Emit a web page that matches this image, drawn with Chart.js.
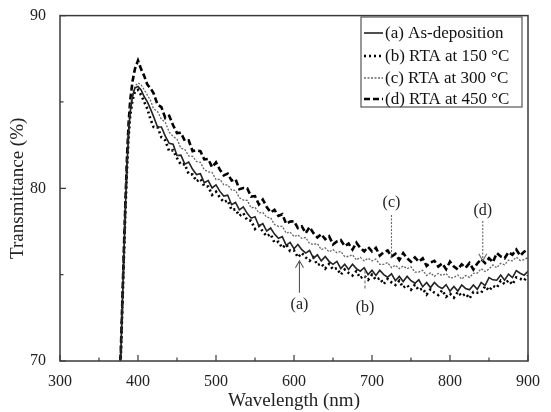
<!DOCTYPE html>
<html><head><meta charset="utf-8">
<script src="https://cdn.jsdelivr.net/npm/chart.js@4.4.1/dist/chart.umd.min.js"></script>
<style>html,body{margin:0;padding:0;background:#fff}#w{width:551px;height:412px}</style>
</head><body><div id="w"><canvas id="c" width="551" height="412"></canvas></div>
<script>
const wavelength = [376,378,380,382,384,386,388,390,393,396,400,404,408,412,416,
 420,425,430,435,440,445,450,455,460,465,470,475,480,485,490,495,500,505,510,515,520,525,530,535,540,545,
 550,555,560,565,570,575,580,585,590,595,600,605,610,615,620,625,630,635,640,645,650,655,660,665,670,675,
 680,685,690,695,700,705,710,715,720,725,730,735,740,745,750,755,760,765,770,775,780,785,790,795,800,805,
 810,815,820,825,830,835,840,845,850,855,860,865,870,875,880,885,890,895,900];
const seriesA = [69.0,70.4,73.4,76.3,79.1,81.4,83.2,84.4,85.3,85.8,85.9,85.7,85.3,85.0,84.6,
 84.15,83.55,83.55,83.02,82.6,82.55,81.9,81.92,81.4,81.52,81.1,80.8,80.85,80.32,80.45,80.02,80.2,79.82,79.55,79.6,
 79.05,79.18,78.75,78.92,78.55,78.27,78.35,77.82,77.95,77.52,77.7,77.35,77.1,77.2,76.7,76.87,76.5,76.75,76.45,76.25,
 76.4,75.95,76.15,75.8,76.05,75.77,75.6,75.77,75.35,75.6,75.3,75.6,75.35,75.2,75.4,75.0,75.25,74.95,75.25,75.0,
 74.85,75.05,74.65,74.9,74.6,74.9,74.65,74.5,74.7,74.3,74.55,74.25,74.55,74.32,74.2,74.42,74.05,74.32,74.05,74.4,
 74.2,74.12,74.4,74.15,74.55,74.37,74.83,74.7,74.68,74.98,74.68,75.03,74.83,75.23,75.08,74.97,75.2];
const seriesB = [69.0,70.3,73.2,76.1,78.9,81.2,83.0,84.2,85.1,85.6,85.7,85.4,85.0,84.6,84.0,
 83.55,83.55,82.95,82.77,82.15,82.2,81.75,81.37,81.4,80.82,80.8,80.4,80.55,80.12,80.1,79.62,79.8,79.47,79.2,79.3,
 78.75,78.78,78.4,78.57,78.15,78.12,77.65,77.82,77.5,77.22,77.35,76.85,76.9,76.55,76.75,76.37,76.4,76.0,76.25,76.0,
 75.8,76.0,75.55,75.65,75.35,75.62,75.3,75.37,75.0,75.3,75.1,74.95,75.2,74.8,74.95,74.7,75.0,74.7,74.8,74.45,
 74.75,74.55,74.4,74.65,74.25,74.4,74.13,74.42,74.1,74.2,73.85,74.15,73.95,73.82,74.1,73.72,73.9,73.67,74.0,73.75,
 73.9,73.62,74.0,73.95,73.95,74.33,74.07,74.35,74.24,74.65,74.46,74.67,74.43,74.84,74.76,74.66,74.95];
const seriesC = [69.0,70.5,73.5,76.5,79.3,81.7,83.5,84.7,85.5,85.9,86.1,86.0,85.7,85.4,85.1,
 84.6,84.45,84.0,83.82,83.25,83.0,82.85,82.32,82.25,81.87,81.85,81.55,81.5,81.07,80.95,80.92,80.5,80.52,80.2,80.2,
 79.9,79.88,79.45,79.32,79.3,78.87,78.9,78.57,78.6,78.32,78.3,77.9,77.8,77.8,77.4,77.47,77.2,77.3,77.1,77.15,
 76.8,76.75,76.8,76.45,76.55,76.32,76.45,76.27,76.35,76.05,76.05,76.15,75.85,76.0,75.8,75.95,75.8,75.9,75.6,75.6,
 75.7,75.4,75.55,75.35,75.5,75.35,75.45,75.15,75.15,75.25,74.95,75.1,74.9,75.07,74.95,75.07,74.8,74.84,74.98,74.74,
 74.95,74.84,75.08,75.09,75.35,75.18,75.32,75.56,75.4,75.66,75.57,75.84,75.8,76.01,75.82,75.87,76.0];
const seriesD = [69.0,70.6,73.6,76.6,79.4,81.9,83.8,85.1,86.2,86.9,87.4,86.9,86.5,86.0,85.8,
 85.5,84.85,84.7,84.07,84.2,83.65,83.2,83.22,82.75,82.77,82.15,82.2,82.15,81.67,81.7,81.22,81.5,81.07,80.75,80.85,
 80.45,80.53,79.95,80.02,80.0,79.52,79.55,79.07,79.35,78.92,78.6,78.75,78.4,78.5,77.95,78.07,78.1,77.7,77.8,77.4,
 77.75,77.4,77.15,77.35,77.05,77.22,76.75,76.92,77.0,76.65,76.8,76.45,76.85,76.55,76.35,76.6,76.35,76.55,76.1,76.3,
 76.4,76.05,76.2,75.85,76.25,75.95,75.75,76.0,75.75,75.95,75.5,75.7,75.8,75.47,75.65,75.32,75.75,75.47,75.3,75.6,
 75.4,75.67,75.3,75.65,75.9,75.67,75.95,75.72,76.25,76.05,75.95,76.3,76.15,76.45,76.1,76.33,76.45];
const seriesLabels = ['(a) As-deposition','(b) RTA at 150 °C','(c) RTA at 300 °C','(d) RTA at 450 °C'];
const xMajorTicks = [300,400,500,600,700,800,900];
const xMinorTicks = [350,450,550,650,750,850];
const yMajorTicks = [70,80,90];
const yMinorTicks = [75,85];
// annotation labels: [text, wavelength, textValue, lineFrom, lineTo]
const annotations = [
  ['(a)', 607, 73.25, 73.95, 75.8],
  ['(b)', 691, 73.1, 74.2, 75.3],
  ['(c)', 725, 79.15, 78.45, 75.95],
  ['(d)', 842, 78.7, 78.1, 75.8]
];

const SERIF = '"Liberation Serif", "DejaVu Serif", serif';
const pts = arr => wavelength.map((w,i)=>({x:w,y:arr[i]}));
const styles = [
  {borderColor:'#222', borderWidth:1.6, borderDash:[]},
  {borderColor:'#000', borderWidth:2.6, borderDash:[2,3]},
  {borderColor:'#666', borderWidth:1.3, borderDash:[2,1.5]},
  {borderColor:'#000', borderWidth:2.6, borderDash:[6,3]}
];
const allSeries = [seriesA, seriesB, seriesC, seriesD];
const datasets = allSeries.map((s,i)=>Object.assign({label:seriesLabels[i], data:pts(s), pointRadius:0, tension:0, fill:false}, styles[i]));

const decor = {
  id:'decor',
  afterDraw(chart){
    const {ctx, chartArea:a, scales:{x,y}} = chart;
    ctx.save();
    ctx.strokeStyle = '#3a3a3a'; ctx.lineWidth = 1.5;
    ctx.strokeRect(a.left, a.top, a.right-a.left, a.bottom-a.top);
    ctx.lineWidth = 1.2;
    ctx.beginPath();
    xMajorTicks.forEach(v=>{const px=x.getPixelForValue(v); ctx.moveTo(px,a.bottom); ctx.lineTo(px,a.bottom-6);});
    xMinorTicks.forEach(v=>{const px=x.getPixelForValue(v); ctx.moveTo(px,a.bottom); ctx.lineTo(px,a.bottom-3.5);});
    yMajorTicks.forEach(v=>{const py=y.getPixelForValue(v); ctx.moveTo(a.left,py); ctx.lineTo(a.left+6,py);});
    yMinorTicks.forEach(v=>{const py=y.getPixelForValue(v); ctx.moveTo(a.left,py); ctx.lineTo(a.left+3.5,py);});
    ctx.stroke();
    // legend
    const lx=361, ly=17, lw=161, lh=90;
    ctx.fillStyle='#fff'; ctx.fillRect(lx,ly,lw,lh);
    ctx.strokeStyle='#555'; ctx.lineWidth=1.2; ctx.strokeRect(lx,ly,lw,lh);
    const rows=[33,56,78,99];
    ctx.font = '17px '+SERIF; ctx.textBaseline='middle'; ctx.textAlign='left';
    chart.data.datasets.forEach((ds,i)=>{
      ctx.save();
      ctx.strokeStyle=ds.borderColor; ctx.lineWidth=ds.borderWidth; ctx.setLineDash(ds.borderDash||[]);
      ctx.beginPath(); ctx.moveTo(364,rows[i]); ctx.lineTo(383,rows[i]); ctx.stroke();
      ctx.restore();
      ctx.fillStyle='#111'; ctx.fillText(ds.label,385,rows[i]+1);
    });
    // annotations
    ctx.font = '16px '+SERIF; ctx.textAlign='center';
    annotations.forEach(([t,w,tv,f,to],i)=>{
      const px=x.getPixelForValue(w);
      ctx.fillStyle='#222'; ctx.fillText(t,px,y.getPixelForValue(tv));
      const y1=y.getPixelForValue(f), y2=y.getPixelForValue(to);
      ctx.save();
      ctx.strokeStyle = i===0 ? '#555' : '#666';
      ctx.lineWidth = 1.1;
      ctx.setLineDash(i===0?[]:(i===1?[3,2]:[2,1.5]));
      ctx.beginPath(); ctx.moveTo(px,y1); ctx.lineTo(px,y2); ctx.stroke();
      ctx.setLineDash([]);
      if(i===0||i===3){
        const d = y2<y1 ? 1 : -1;
        ctx.beginPath(); ctx.moveTo(px-4,y2+d*7); ctx.lineTo(px,y2); ctx.lineTo(px+4,y2+d*7); ctx.stroke();
      }
      ctx.restore();
    });
    ctx.restore();
  }
};

new Chart(document.getElementById('c'), {
  type:'line',
  data:{datasets},
  plugins:[decor],
  options:{
    responsive:false, animation:false, devicePixelRatio:1,
    layout:{padding:{top:13, right:23, left:0, bottom:0}},
    plugins:{legend:{display:false}, tooltip:{enabled:false}},
    scales:{
      x:{type:'linear', min:300, max:900,
        afterBuildTicks:s=>{s.ticks = xMajorTicks.map(v=>({value:v}));},
        afterFit:s=>{s.height=51;},
        grid:{display:false}, border:{display:false},
        ticks:{font:{family:SERIF,size:16}, color:'#222', padding:3, maxRotation:0, autoSkip:false},
        title:{display:true, text:'Wavelength (nm)', font:{family:SERIF,size:19}, color:'#222', padding:{top:0,bottom:0}}
      },
      y:{type:'linear', min:70, max:90,
        afterBuildTicks:s=>{s.ticks = yMajorTicks.map(v=>({value:v}));},
        afterFit:s=>{s.width=60;},
        grid:{display:false}, border:{display:false},
        ticks:{font:{family:SERIF,size:16}, color:'#222', padding:6},
        title:{display:true, text:'Transmittance (%)', font:{family:SERIF,size:19}, color:'#222', padding:{top:7,bottom:0}}
      }
    }
  }
});
</script></body></html>
